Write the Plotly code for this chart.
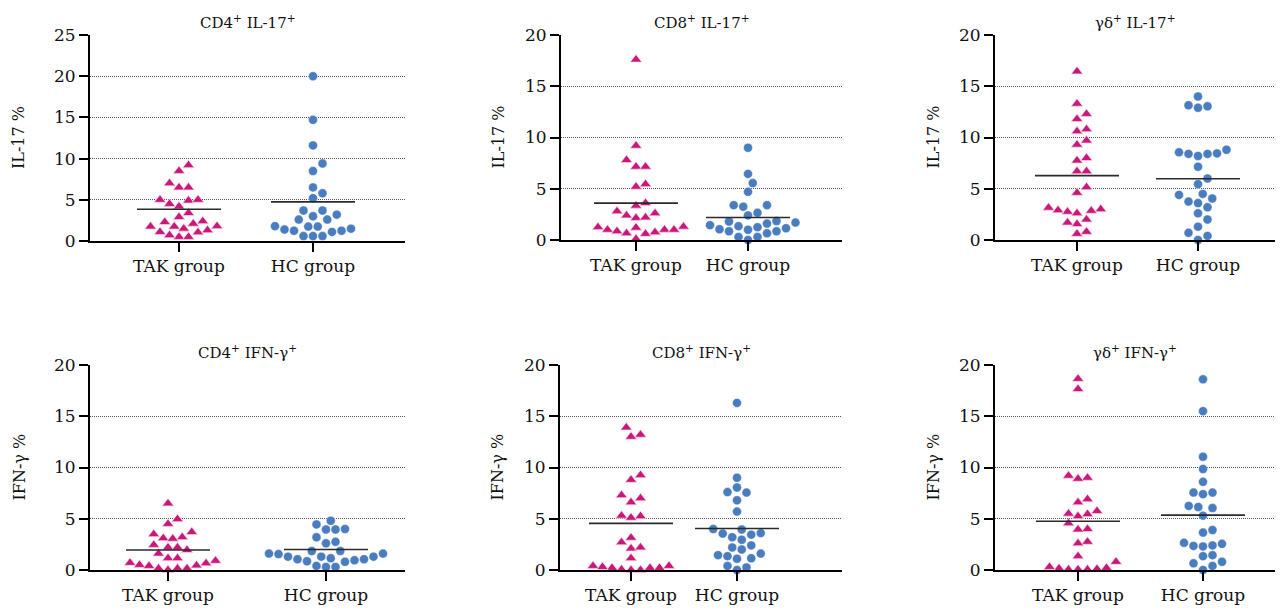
import plotly.graph_objects as go

# ---------------- data ----------------
groups = ["TAK group", "HC group"]
titles = ["CD4<sup>+</sup> IL-17<sup>+</sup>", "CD8<sup>+</sup> IL-17<sup>+</sup>", "γδ<sup>+</sup> IL-17<sup>+</sup>",
          "CD4<sup>+</sup> IFN-γ<sup>+</sup>", "CD8<sup>+</sup> IFN-γ<sup>+</sup>", "γδ<sup>+</sup> IFN-γ<sup>+</sup>"]
y_labels = ["IL-17 %", "IL-17 %", "IL-17 %", "IFN-γ %", "IFN-γ %", "IFN-γ %"]
y_max = [25, 20, 20, 20, 20, 20]
y_ticks_25 = [0, 5, 10, 15, 20, 25]
y_ticks_20 = [0, 5, 10, 15, 20]

cd4_il17_tak = [1.8, 1.75, 0.5, 2.1, 1.05, 4.2, 4.9, 6.5, 8.5, 6.5, 5.0, 1.75, 0.7, 9.2, 7.0, 5.0, 3.4,
                2.3, 1.1, 4.5, 2.9, 1.5, 0.5, 2.4, 1.3]
cd4_il17_hc = [2.6, 1.25, 1.8, 1.25, 0.6, 3.7, 3.7, 1.1, 5.2, 6.5, 8.5, 20.0, 14.7, 11.6, 9.4, 5.8, 3.0,
               1.75, 0.6, 3.2, 1.75, 0.6, 1.5, 2.6, 1.4]
cd8_il17_tak = [17.6, 9.2, 7.15, 7.15, 7.8, 5.2, 5.45, 3.35, 3.6, 2.8, 2.15, 2.4, 2.6, 2.2, 1.0, 1.2, 0.6,
                1.0, 0.65, 0.85, 1.0, 0.75, 0.1, 1.25, 1.3]
cd8_il17_hc = [9.0, 6.45, 5.55, 4.7, 3.4, 3.4, 3.25, 2.65, 2.4, 1.6, 1.8, 1.7, 1.85, 0.85, 1.15, 0.85, 1.25,
               1.45, 1.0, 1.05, 1.35, 0.3, 0.3, 0.65, 0.0]
gd_il17_tak = [16.45, 13.3, 12.3, 11.8, 10.6, 10.8, 9.7, 9.3, 7.75, 8.0, 6.7, 6.7, 4.6, 5.15, 3.0, 2.75, 2.85,
               2.6, 2.9, 3.15, 1.55, 1.7, 2.0, 0.6, 0.8]
gd_il17_hc = [14.0, 12.9, 13.15, 13.05, 8.45, 8.4, 8.2, 8.4, 8.55, 8.8, 7.15, 5.45, 6.0, 4.4, 4.5, 3.2, 3.6,
              3.75, 4.05, 2.0, 2.6, 1.3, 0.0, 0.4, 0.7]
cd4_ifng_tak = [6.5, 4.96, 4.5, 3.7, 3.1, 3.2, 3.5, 3.05, 1.95, 2.2, 2.45, 2.2, 1.6, 1.15, 0.7, 0.45, 0.65,
                0.9, 0.15, 0.0, 0.5, 0.15, 0.4, 1.15, 0.15]
cd4_ifng_hc = [4.8, 3.95, 4.0, 3.95, 4.45, 3.2, 2.75, 2.6, 1.85, 1.55, 1.85, 1.6, 1.3, 1.6, 1.15, 0.95, 1.05,
               1.05, 1.3, 1.3, 0.8, 0.85, 0.3, 0.4, 0.3]
cd8_ifng_tak = [13.9, 13.2, 13.0, 8.8, 9.25, 7.3, 7.0, 6.6, 5.3, 5.25, 5.1, 3.15, 2.7, 2.1, 2.2, 1.15, 0.2,
                0.4, 0.2, 0.4, 0.0, 0.3, 0.05, 0.2, 0.0]
cd8_ifng_hc = [16.3, 9.0, 8.05, 7.6, 7.55, 6.8, 5.7, 4.0, 3.95, 3.2, 3.45, 3.55, 3.6, 2.95, 2.4, 2.0, 2.2,
               1.6, 1.1, 1.45, 1.15, 1.35, 0.0, 0.4, 0.25]
gd_ifng_tak = [18.65, 17.65, 9.0, 9.2, 8.9, 6.6, 6.9, 5.45, 5.25, 5.75, 5.5, 4.55, 4.0, 3.95, 2.75, 2.6, 1.35,
               0.8, 0.05, 0.15, 0.3, 0.05, 0.2, 0.05, 0.1]
gd_ifng_hc = [18.6, 15.5, 11.05, 9.85, 8.6, 7.55, 7.55, 7.4, 6.05, 6.25, 6.15, 5.3, 3.65, 3.9, 2.4, 2.35, 2.3,
              2.55, 2.65, 1.45, 1.35, 0.65, 0.4, 0.8, 0.0]

tak_series = [cd4_il17_tak, cd8_il17_tak, gd_il17_tak, cd4_ifng_tak, cd8_ifng_tak, gd_ifng_tak]
hc_series = [cd4_il17_hc, cd8_il17_hc, gd_il17_hc, cd4_ifng_hc, cd8_ifng_hc, gd_ifng_hc]
tak_lines = [3.85, 3.6, 6.28, 1.95, 4.55, 4.75]
hc_lines = [4.75, 2.2, 5.98, 2.0, 4.05, 5.35]

# ---------------- layout (pixels) ----------------
W, H = 1284, 610
# left, right, TAK tick, HC tick, top, bottom
panels = [
    (90, 405, 179, 313, 35, 241),
    (561, 842, 636, 748, 35, 240),
    (995, 1275, 1077, 1198, 35, 240),
    (90, 405, 168, 326, 365, 570),
    (560, 842, 631, 737, 365, 570),
    (995, 1275, 1078, 1203, 365, 570),
]
ylab_x = [19, 498, 933, 19, 497, 933]

TAK_COLOR = "#C8197B"
HC_COLOR = "#4A7DC0"
FONT = "DejaVu Serif"


def swarm(values, ppu_y, d=9.5, step=4.75):
    """Greedy beeswarm in pixel space, returns x offsets (px)."""
    order = sorted(range(len(values)), key=lambda i: values[i])
    cands = [0.0]
    for k in range(1, 60):
        cands += [k * step, -k * step]
    placed = []
    offs = [0.0] * len(values)
    for i in order:
        y = values[i] * ppu_y
        for off in cands:
            if all((off - px) ** 2 + (y - py) ** 2 >= d * d for px, py in placed):
                break
        placed.append((off, y))
        offs[i] = off
    return offs


fig = go.Figure()
annotations = []

for p, (L, R, xt, xh, top, bot) in enumerate(panels):
    sfx = "" if p == 0 else str(p + 1)
    xa, ya = "x" + sfx, "y" + sfx
    ppu_x = xh - xt
    ppu_y = (bot - top) / y_max[p]
    xr = [1 - (xt - L) / ppu_x, 2 + (R - xh) / ppu_x]

    for g, (vals, col, sym, sz, lc) in enumerate([
        (tak_series[p], TAK_COLOR, "triangle-up", 10, "rgba(255,215,232,0.9)"),
        (hc_series[p], HC_COLOR, "circle", 9, "rgba(255,255,255,0.5)"),
    ]):
        offs = swarm(vals, ppu_y)
        xs = [g + 1 + o / ppu_x for o in offs]
        fig.add_trace(go.Scatter(
            x=xs, y=vals, mode="markers", xaxis=xa, yaxis=ya, showlegend=False,
            cliponaxis=False,
            marker=dict(symbol=sym, size=sz, color=col, line=dict(width=0.8, color=lc)),
        ))
        m = (tak_lines if g == 0 else hc_lines)[p]
        hw = 42 / ppu_x
        fig.add_trace(go.Scatter(
            x=[g + 1 - hw, g + 1 + hw], y=[m, m], mode="lines", xaxis=xa, yaxis=ya,
            showlegend=False, cliponaxis=False, line=dict(color="#2a2a2a", width=1.6),
        ))

    ticks = y_ticks_25 if y_max[p] == 25 else y_ticks_20
    fig.layout["xaxis" + sfx] = dict(
        domain=[L / W, R / W], range=xr, anchor=ya, automargin=False,
        tickmode="array", tickvals=[1, 2], ticktext=groups,
        showline=True, linecolor="black", linewidth=2, mirror=False,
        ticks="outside", ticklen=9, tickwidth=2, tickcolor="black",
        showgrid=False, zeroline=False, fixedrange=True,
        tickfont=dict(family=FONT, size=17, color="#111"),
    )
    fig.layout["yaxis" + sfx] = dict(
        domain=[1 - bot / H, 1 - top / H], range=[0, y_max[p]], anchor=xa, automargin=False,
        tickmode="array", tickvals=ticks,
        showline=True, linecolor="black", linewidth=2,
        ticks="outside", ticklen=9, tickwidth=2, tickcolor="black",
        showgrid=True, gridcolor="#555555", gridwidth=1, griddash="1px,1px",
        zeroline=False, fixedrange=True,
        tickfont=dict(family=FONT, size=17, color="#111"),
    )
    annotations.append(dict(
        text=titles[p], x=(L + R) / 2 / W, y=1 - (22 if p < 3 else 352) / H,
        xref="paper", yref="paper", xanchor="center", yanchor="middle", showarrow=False,
        font=dict(family=FONT, size=15, color="#111"),
    ))
    annotations.append(dict(
        text=y_labels[p], x=ylab_x[p] / W, y=1 - (top + bot) / 2 / H,
        xref="paper", yref="paper", xanchor="center", yanchor="middle", showarrow=False,
        textangle=-90, font=dict(family=FONT, size=16, color="#111"),
    ))

fig.update_layout(
    width=W, height=H, margin=dict(l=0, r=0, t=0, b=0, autoexpand=False),
    paper_bgcolor="white", plot_bgcolor="white",
    annotations=annotations, hovermode=False,
)

fig.write_html(
    "out.html",
    config={"displayModeBar": False, "staticPlot": True},
    post_script="document.body.style.margin='0';document.body.style.overflow='hidden';",
)
